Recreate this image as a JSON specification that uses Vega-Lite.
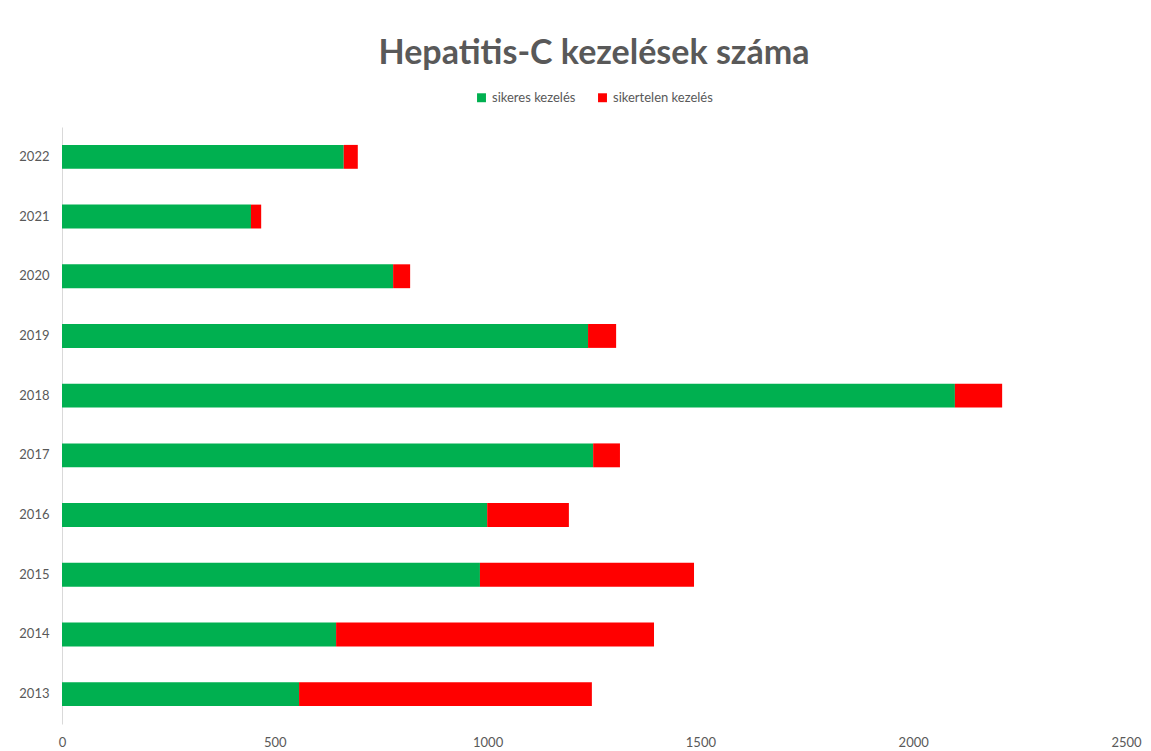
{
  "$schema": "https://vega.github.io/schema/vega-lite/v6.json",
  "autosize": {"type": "none"},
  "width": 1064,
  "height": 597,
  "padding": {"left": 62, "top": 127, "right": 25, "bottom": 27},
  "background": "white",
  "title": {
    "text": "Hepatitis-C kezelések száma",
    "fontSize": 34,
    "font": "Lato",
    "fontWeight": "bold",
    "color": "#595959",
    "anchor": "middle",
    "offset": 20
  },
  "data": {
    "values": [
      {"ev": "2022", "tipus": "sikeres kezelés", "ertek": 662},
      {"ev": "2022", "tipus": "sikertelen kezelés", "ertek": 33},
      {"ev": "2021", "tipus": "sikeres kezelés", "ertek": 444},
      {"ev": "2021", "tipus": "sikertelen kezelés", "ertek": 24},
      {"ev": "2020", "tipus": "sikeres kezelés", "ertek": 778},
      {"ev": "2020", "tipus": "sikertelen kezelés", "ertek": 40},
      {"ev": "2019", "tipus": "sikeres kezelés", "ertek": 1236},
      {"ev": "2019", "tipus": "sikertelen kezelés", "ertek": 66},
      {"ev": "2018", "tipus": "sikeres kezelés", "ertek": 2098},
      {"ev": "2018", "tipus": "sikertelen kezelés", "ertek": 111},
      {"ev": "2017", "tipus": "sikeres kezelés", "ertek": 1248},
      {"ev": "2017", "tipus": "sikertelen kezelés", "ertek": 63},
      {"ev": "2016", "tipus": "sikeres kezelés", "ertek": 999},
      {"ev": "2016", "tipus": "sikertelen kezelés", "ertek": 192},
      {"ev": "2015", "tipus": "sikeres kezelés", "ertek": 982},
      {"ev": "2015", "tipus": "sikertelen kezelés", "ertek": 503},
      {"ev": "2014", "tipus": "sikeres kezelés", "ertek": 644},
      {"ev": "2014", "tipus": "sikertelen kezelés", "ertek": 747},
      {"ev": "2013", "tipus": "sikeres kezelés", "ertek": 557},
      {"ev": "2013", "tipus": "sikertelen kezelés", "ertek": 688}
    ]
  },
  "mark": {"type": "bar"},
  "encoding": {
    "y": {
      "field": "ev",
      "type": "nominal",
      "sort": ["2022","2021","2020","2019","2018","2017","2016","2015","2014","2013"],
      "scale": {"paddingInner": 0.6, "paddingOuter": 0.3},
      "axis": {
        "title": null,
        "ticks": false,
        "domain": true,
        "domainColor": "#d9d9d9",
        "labelFont": "Lato",
        "labelFontSize": 13,
        "labelColor": "#595959",
        "labelPadding": 13
      }
    },
    "x": {
      "field": "ertek",
      "type": "quantitative",
      "stack": "zero",
      "scale": {"domain": [0, 2500], "nice": false},
      "axis": {
        "title": null,
        "values": [0, 500, 1000, 1500, 2000, 2500],
        "format": "d",
        "grid": false,
        "domain": false,
        "ticks": false,
        "labelFont": "Lato",
        "labelFontSize": 13,
        "labelColor": "#595959",
        "labelPadding": 12,
        "labelFlush": false
      }
    },
    "color": {
      "field": "tipus",
      "type": "nominal",
      "scale": {"domain": ["sikeres kezelés", "sikertelen kezelés"], "range": ["#00B050", "#FF0000"]},
      "legend": {
        "title": null,
        "orient": "top",
        "direction": "horizontal",
        "symbolType": "square",
        "symbolSize": 80,
        "labelFont": "Lato",
        "labelFontSize": 13,
        "labelColor": "#595959",
        "columnPadding": 20,
        "offset": 22
      }
    },
    "order": {"field": "tipus", "sort": "ascending"}
  },
  "config": {
    "view": {"stroke": null},
    "legend": {"layout": {"top": {"anchor": "middle"}}}
  }
}
